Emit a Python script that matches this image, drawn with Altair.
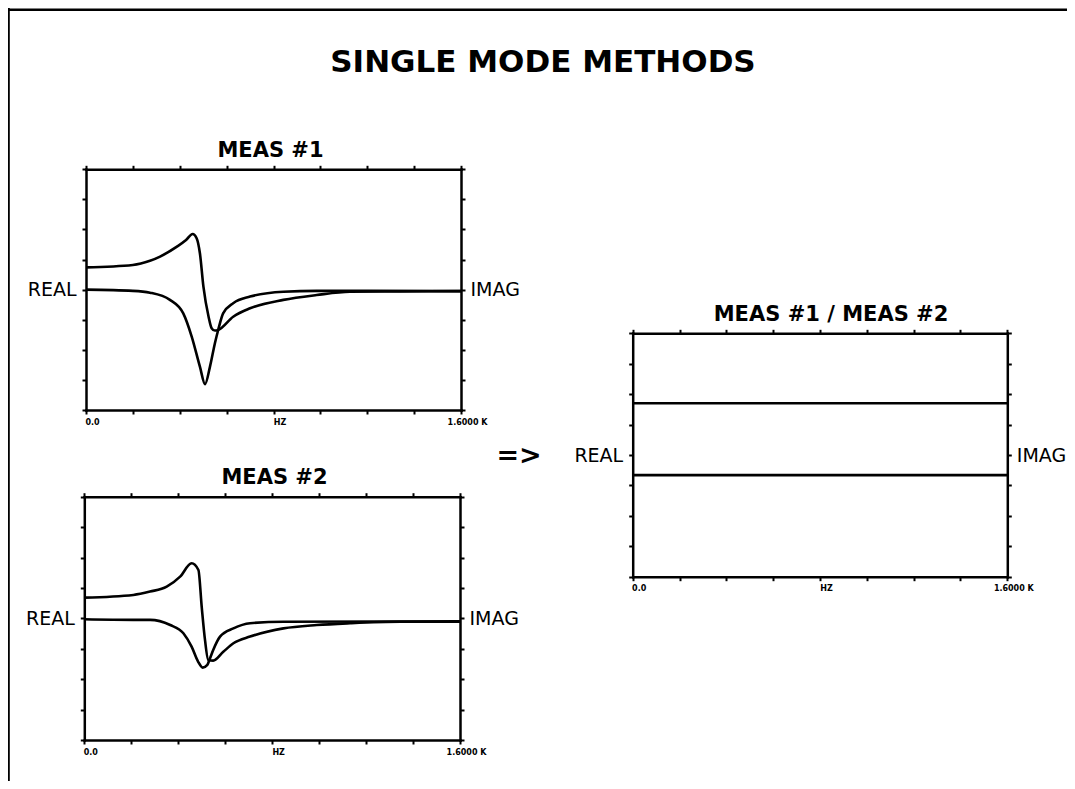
import altair as alt
import pandas as pd

# ---------------- data ----------------
# MEAS #1
freq1_real = [0, 200, 273, 316, 388, 427, 455, 472, 486, 501, 523, 536, 550, 564, 628, 700, 842, 984, 1126, 1340, 1600]
real1 = [0.74, 0.82, 0.96, 1.10, 1.43, 1.65, 1.85, 1.71, 1.21, 0.10, -0.90, -1.28, -1.36, -1.34, -0.90, -0.62, -0.34, -0.18, -0.07, -0.06, -0.05]
freq1_imag = [0, 200, 273, 358, 415, 451, 486, 508, 529, 550, 564, 585, 628, 700, 842, 984, 1200, 1600]
imag1 = [0.0, -0.04, -0.10, -0.34, -0.79, -1.56, -2.56, -3.14, -2.56, -1.78, -1.34, -0.79, -0.45, -0.23, -0.07, -0.04, -0.04, -0.05]

# MEAS #2
freq2_real = [0, 209, 280, 351, 408, 457, 486, 500, 514, 528, 549, 592, 635, 706, 848, 990, 1132, 1345, 1600]
real2 = [0.68, 0.77, 0.88, 1.04, 1.37, 1.81, 1.59, 0.38, -0.71, -1.37, -1.39, -1.10, -0.82, -0.60, -0.33, -0.22, -0.16, -0.11, -0.11]
freq2_imag = [0, 209, 280, 366, 422, 457, 485, 504, 524, 535, 549, 578, 635, 706, 848, 1600]
imag2 = [-0.03, -0.05, -0.05, -0.22, -0.49, -0.93, -1.43, -1.62, -1.53, -1.32, -1.04, -0.60, -0.33, -0.16, -0.11, -0.10]

# MEAS #1 / MEAS #2
freq3 = [0, 1600]
real3 = [1.70, 1.70]
imag3 = [-0.66, -0.66]

x_ticks = [0, 200, 400, 600, 800, 1000, 1200, 1400, 1600]
y_ticks = [-4, -3, -2, -1, 0, 1, 2, 3, 4]
x_tick_labels = {0: "0.0", 800: "HZ", 1600: "1.6000 K"}
left_label = "REAL"
right_label = "IMAG"
main_title = "SINGLE MODE METHODS"
panel_titles = ["MEAS #1", "MEAS #2", "MEAS #1 / MEAS #2"]
arrow_text = "=>"

# ---------------- layout ----------------
PAD_L, PAD_T, PAD_R, PAD_B = 6, 6, 2, 2
W, H = 1051, 765
OX, OY = 8 + PAD_L, 8 + PAD_T   # page position of view origin

# panel frames in page pixels: (left, right, top, bottom)
boxes = [(86, 461, 169.3, 410), (84.3, 460, 496.7, 740), (632.7, 1007.3, 333.3, 576.7)]
title_pos = [(270, -12.6), (274, -13.4), (830.5, -12.6)]

FONT = "DejaVu Sans"


def frame_df(freqs_re, re, freqs_im, im):
    return pd.DataFrame(
        {"f": list(freqs_re) + list(freqs_im),
         "v": list(re) + list(im),
         "s": ["real"] * len(re) + ["imag"] * len(im)}
    )


x_label_expr = " : ".join(
    [f"datum.value == {k} ? '{v}'" for k, v in x_tick_labels.items()]
) + " : ''"

common_axis = dict(
    grid=False, domainColor="black", domainWidth=2.5, domainCap="square",
    tickColor="black", tickWidth=2, tickSize=4,
)


def panel_layers(df, box, title, tpos, arrow=False):
    l, r, t, b = box
    xl, xr, yt, yb = l - OX, r - OX, t - OY, b - OY
    xs = alt.Scale(domain=[0, 1600], range=[xl, xr], nice=False, zero=False)
    ys = alt.Scale(domain=[-4, 4], range=[yb, yt], nice=False, zero=False)

    bottom = alt.Axis(orient="bottom", offset=yb - H, values=x_ticks, title=None,
                      labelExpr=x_label_expr, labelFont=FONT, labelFontWeight="bold",
                      labelFontSize=8, labelColor="black", labelPadding=4,
                      labelOffset=6, labelFlush=False, labelOverlap=False, **common_axis)
    left_kwargs = dict(title=None)
    if arrow:
        left_kwargs = dict(title=arrow_text, titleX=(518.5 - OX) - xl, titleY=455 - OY,
                           titleAngle=0, titleAlign="center", titleBaseline="middle",
                           titleFont=FONT, titleFontWeight="bold", titleFontSize=27,
                           titleColor="black")
    left = alt.Axis(orient="left", offset=-xl, values=y_ticks,
                    labelExpr=f"datum.value == 0 ? '{left_label}' : ''",
                    labelFont=FONT, labelFontSize=19, labelColor="black", labelPadding=6,
                    labelOverlap=False, labelBaseline="middle", **left_kwargs, **common_axis)
    top = alt.Axis(orient="top", offset=-yt, values=x_ticks, labels=False,
                   title=title, titleX=tpos[0] - OX, titleY=tpos[1],
                   titleAlign="center", titleBaseline="alphabetic", titleAngle=0,
                   titleFont=FONT, titleFontWeight="bold", titleFontSize=21,
                   titleColor="black", **common_axis)
    right = alt.Axis(orient="right", offset=xr - W, values=y_ticks, title=None,
                     labelExpr=f"datum.value == 0 ? '{right_label}' : ''",
                     labelFont=FONT, labelFontSize=19, labelColor="black", labelPadding=5,
                     labelOverlap=False, labelBaseline="middle", **common_axis)

    lines = alt.Chart(df).mark_line(color="black", strokeWidth=2.6, interpolate="monotone").encode(
        x=alt.X("f:Q", scale=xs, axis=bottom),
        y=alt.Y("v:Q", scale=ys, axis=left),
        detail="s:N",
    )
    ghost = alt.Chart(df).mark_line(opacity=0).encode(
        x=alt.X("f:Q", scale=xs, axis=top),
        y=alt.Y("v:Q", scale=ys, axis=right),
        detail="s:N",
    )
    return [lines, ghost]


df1 = frame_df(freq1_real, real1, freq1_imag, imag1)
df2 = frame_df(freq2_real, real2, freq2_imag, imag2)
df3 = frame_df(freq3, real3, freq3, imag3)

layers = []
layers += panel_layers(df1, boxes[0], panel_titles[0], title_pos[0])
layers += panel_layers(df2, boxes[1], panel_titles[1], title_pos[1])
layers += panel_layers(df3, boxes[2], panel_titles[2], title_pos[2], arrow=True)

# outer slide frame (left and top edges) carrying the main title
frame_data = pd.DataFrame({"a": [0, 1], "b": [0, 1]})
frame = alt.Chart(frame_data).mark_line(opacity=0).encode(
    x=alt.X("a:Q", scale=alt.Scale(domain=[0, 1], range=[-6, W + PAD_R], nice=False, zero=False),
            axis=alt.Axis(orient="top", offset=4.7, ticks=False, labels=False,
                          title=main_title, titleX=542.5 - OX, titleY=62.4,
                          titleAlign="center", titleBaseline="alphabetic",
                          titleFont=FONT, titleFontWeight="bold", titleFontSize=31,
                          titleColor="black", grid=False, domainColor="black",
                          domainWidth=2.6, domainCap="square")),
    y=alt.Y("b:Q", scale=alt.Scale(domain=[0, 1], range=[H + PAD_B, -6], nice=False, zero=False),
            axis=alt.Axis(orient="left", offset=6, ticks=False, labels=False, title=None,
                          grid=False, domainColor="black", domainWidth=2.6, domainCap="square")),
)
layers.append(frame)

chart = (
    alt.layer(*layers)
    .resolve_scale(x="independent", y="independent")
    .resolve_axis(x="independent", y="independent")
    .properties(width=W, height=H,
                padding={"left": PAD_L, "top": PAD_T, "right": PAD_R, "bottom": PAD_B},
                autosize=alt.AutoSizeParams(type="none"), background="white")
    .configure_view(stroke=None)
)

chart.save("out.html", embed_options={"renderer": "svg", "actions": False})
